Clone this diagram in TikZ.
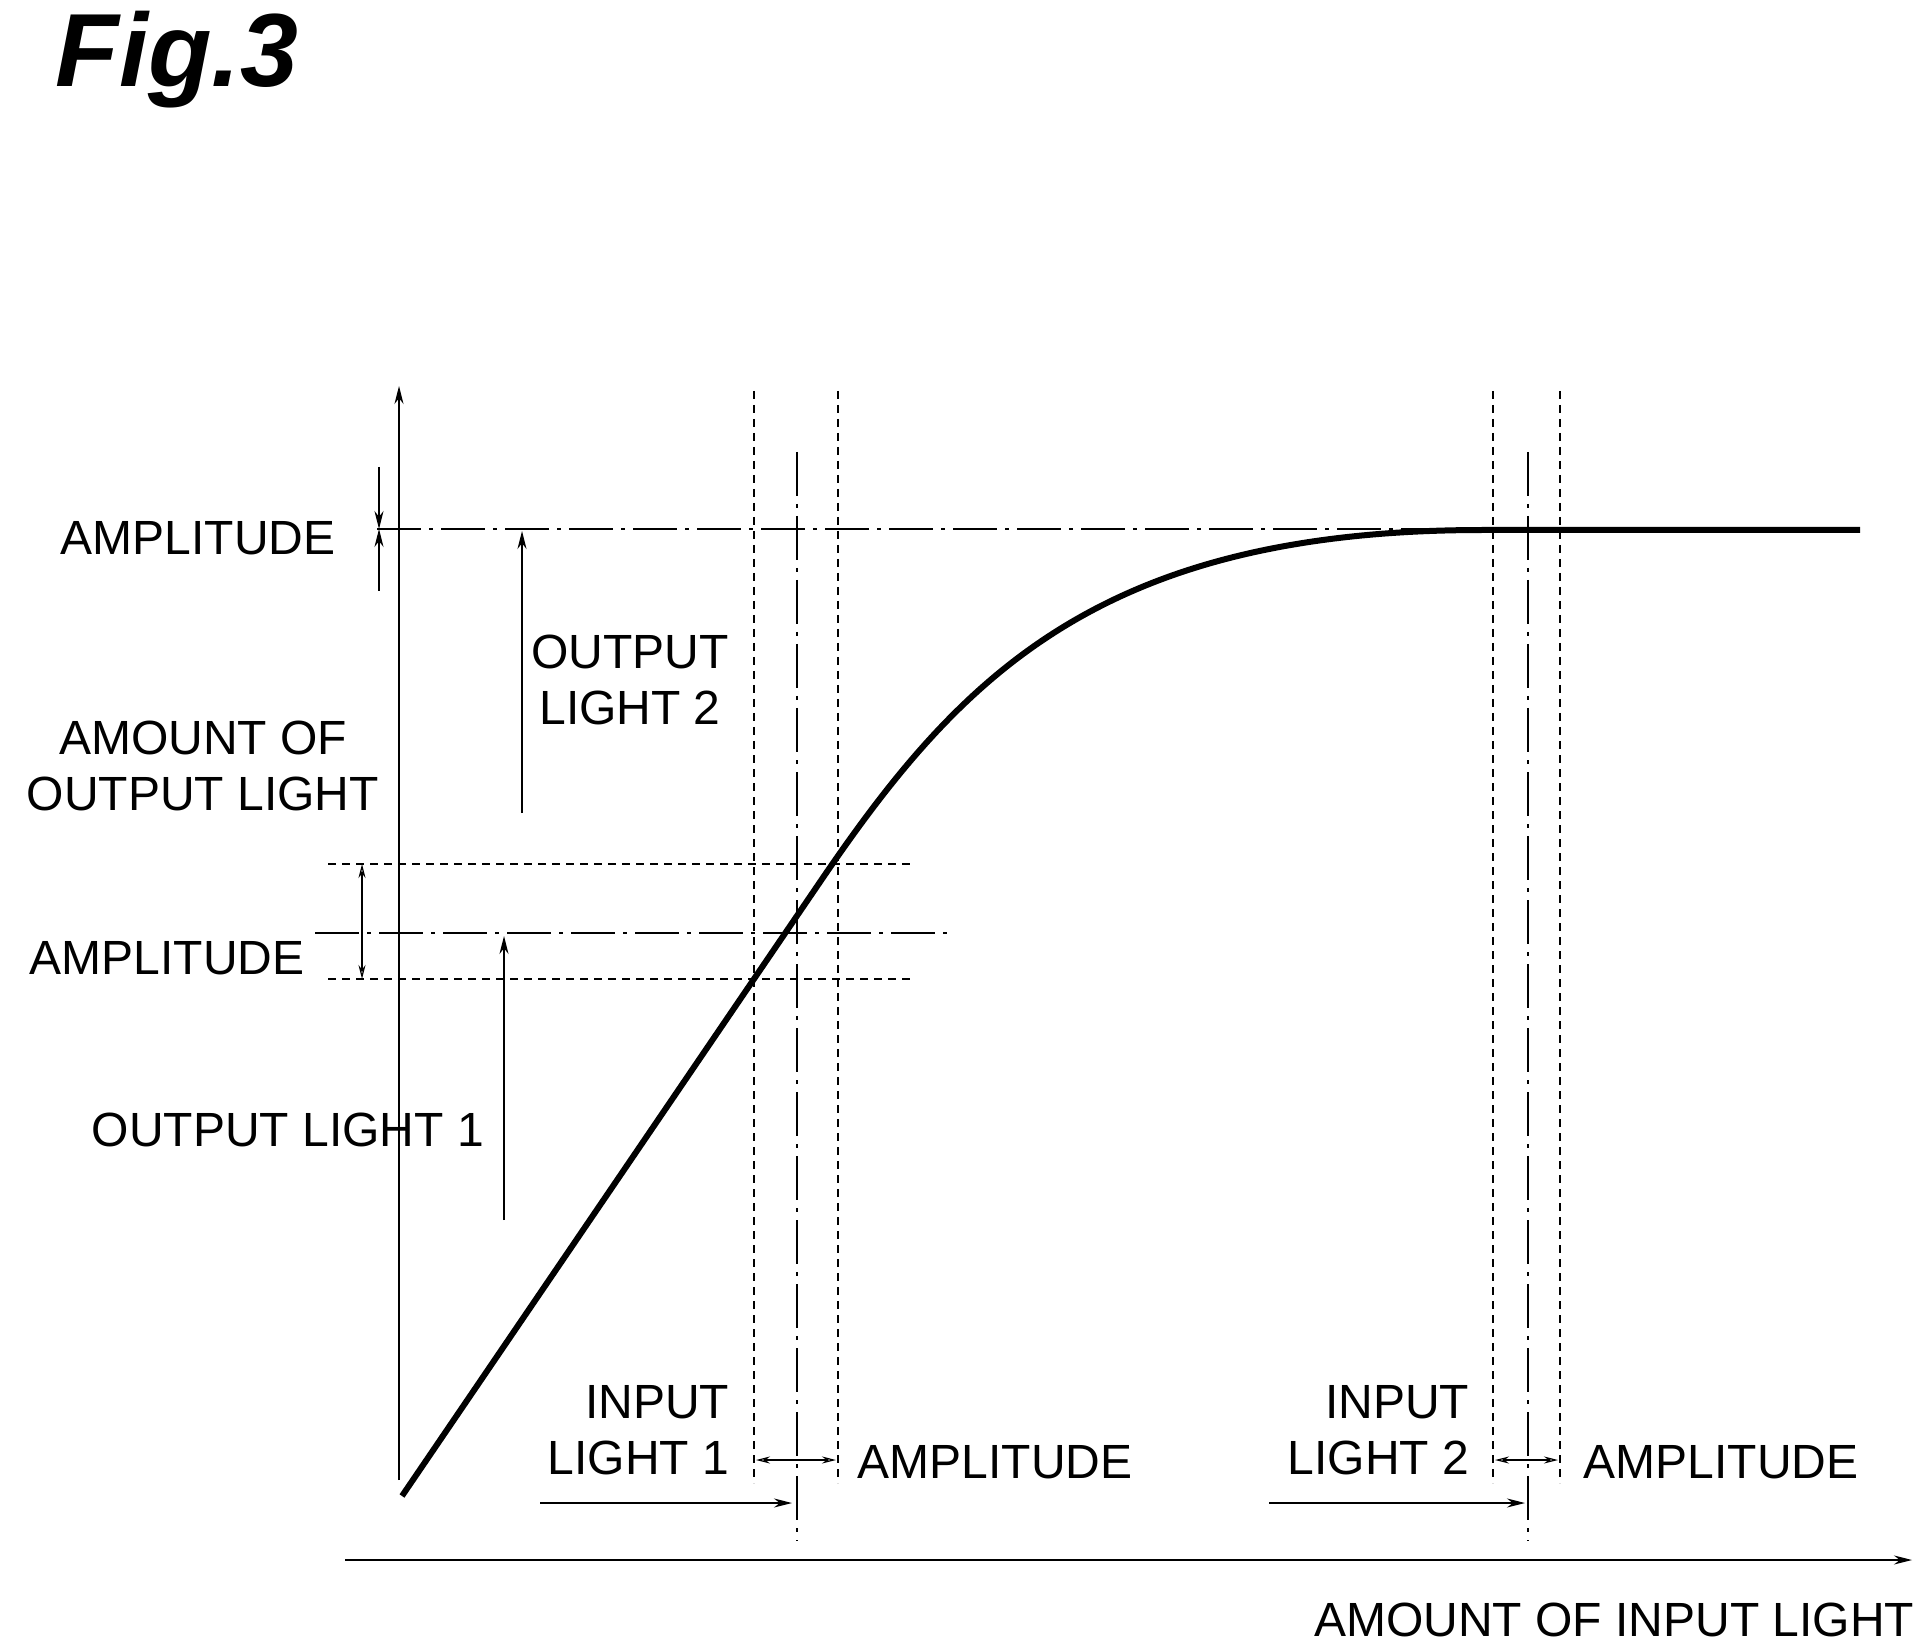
\documentclass[tikz,border=0pt]{standalone}
\usepackage{fontspec}
\setmainfont{Liberation Sans}
\usetikzlibrary{arrows.meta}
\begin{document}
\begin{tikzpicture}[x=0.5pt,y=-0.5pt,line width=0.8pt,
  lbl/.style={font=\fontsize{24}{28}\selectfont,inner sep=0pt,align=center},
  tip/.style={-{Stealth[length=9pt,width=4.5pt]}},
  dtip/.style={{Stealth[length=7pt,width=3.5pt,open]}-{Stealth[length=7pt,width=3.5pt,open]}},
  ddash/.style={dash pattern=on 4pt off 3pt,line width=0.6pt},
  ddot/.style={dash pattern=on 22pt off 4pt on 2pt off 4pt,line width=0.7pt}]
\useasboundingbox (0,0) rectangle (1928,1652);
\node[font=\fontsize{52}{60}\bfseries\itshape\selectfont,inner sep=0pt,anchor=west] (fig) at (55,60) {Fig.3};
% axes
\coordinate (yb) at (399,1480); \coordinate (yt) at (399,386);
\draw[tip] (yb) -- (yt);
\coordinate (xl) at (345,1560); \coordinate (xr) at (1912,1560);
\draw[tip] (xl) -- (xr);
% plateau line
\coordinate (pl) at (377,529); \coordinate (pr) at (1860,529);
\draw[ddot] (pl) -- (pr);
% middle lines
\coordinate (mu1) at (328,864); \coordinate (mu2) at (911,864);
\coordinate (ml1) at (328,979); \coordinate (ml2) at (911,979);
\coordinate (mc1) at (315,933); \coordinate (mc2) at (952,933);
\draw[ddash] (mu1) -- (mu2);
\draw[ddash] (ml1) -- (ml2);
\draw[ddot] (mc1) -- (mc2);
% vertical dashed
\foreach \n/\x in {a/754,b/838,c/1493,d/1560}{
  \coordinate (v\n t) at (\x,391); \coordinate (v\n b) at (\x,1483);
  \draw[ddash] (v\n t) -- (v\n b);}
\foreach \n/\x in {e/797,f/1528}{
  \coordinate (v\n t) at (\x,452); \coordinate (v\n b) at (\x,1541);
  \draw[ddot] (v\n t) -- (v\n b);}
% curve
\draw[line width=3pt] (402,1496) -- (820,882) .. controls (960,676) and (1100,530) .. (1483,530) -- (1860,530);
% top amplitude arrows
\coordinate (ta1) at (379,467); \coordinate (ta) at (379,529); \coordinate (ta2) at (379,591);
\draw[tip,line width=0.6pt] (ta1) -- (ta);
\draw[tip,line width=0.6pt] (ta2) -- (ta);
% middle amplitude double arrow
\coordinate (ma1) at (362,864); \coordinate (ma2) at (362,979);
\draw[dtip,line width=0.6pt] (ma1) -- (ma2);
% output light arrows
\coordinate (o2b) at (522,813); \coordinate (o2t) at (522,531);
\draw[tip] (o2b) -- (o2t);
\coordinate (o1b) at (504,1220); \coordinate (o1t) at (504,936);
\draw[tip] (o1b) -- (o1t);
% input light arrows
\coordinate (i1l) at (540,1503); \coordinate (i1r) at (792,1503);
\draw[tip] (i1l) -- (i1r);
\coordinate (i2l) at (1269,1503); \coordinate (i2r) at (1525,1503);
\draw[tip] (i2l) -- (i2r);
% small amplitude arrows
\coordinate (s1l) at (756,1460); \coordinate (s1r) at (836,1460);
\draw[dtip,line width=0.6pt] (s1l) -- (s1r);
\coordinate (s2l) at (1495,1460); \coordinate (s2r) at (1558,1460);
\draw[dtip,line width=0.6pt] (s2l) -- (s2r);
% labels
\node[lbl] (lamp1) at (198,538) {AMPLITUDE};
\node[lbl] (lo2) at (630,680) {OUTPUT\\LIGHT 2};
\node[lbl] (lao) at (203,766) {AMOUNT OF\\OUTPUT LIGHT};
\node[lbl] (lamp2) at (167,958) {AMPLITUDE};
\node[lbl] (lo1) at (288,1130) {OUTPUT LIGHT 1};
\node[lbl,align=right,anchor=east] (li1) at (730,1430) {INPUT\\LIGHT 1};
\node[lbl,anchor=west] (lamp3) at (857,1462) {AMPLITUDE};
\node[lbl,align=right,anchor=east] (li2) at (1470,1430) {INPUT\\LIGHT 2};
\node[lbl,anchor=west] (lamp4) at (1583,1462) {AMPLITUDE};
\node[lbl,anchor=east] (lai) at (1915,1620) {AMOUNT OF INPUT LIGHT};
\end{tikzpicture}
\end{document}
